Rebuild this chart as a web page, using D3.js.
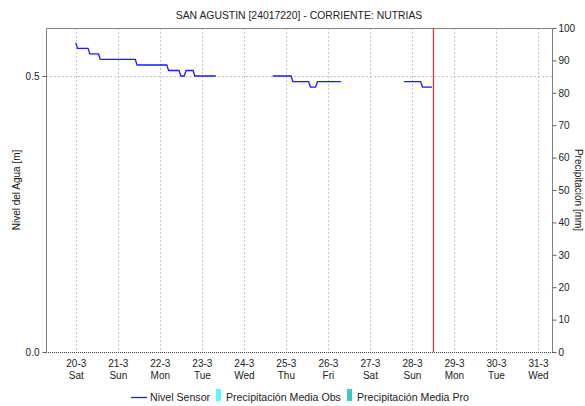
<!DOCTYPE html>
<html>
<head>
<meta charset="utf-8">
<script src="https://cdn.jsdelivr.net/npm/d3@7"></script>
<style>
  html, body { margin: 0; padding: 0; background: #fff; }
  svg { display: block; font-family: "Liberation Sans", Arial, sans-serif; }
</style>
</head>
<body>
<svg id="chart" width="585" height="406"></svg>
<script>
// Water level readings (m), one array per continuous stretch of data
const sensorTimes1 = ["2021-03-20T00:00","2021-03-20T01:00","2021-03-20T07:00","2021-03-20T08:00",
  "2021-03-20T13:00","2021-03-20T14:00","2021-03-21T10:00","2021-03-21T11:00","2021-03-22T04:00",
  "2021-03-22T05:00","2021-03-22T11:00","2021-03-22T12:00","2021-03-22T14:00","2021-03-22T15:00",
  "2021-03-22T19:00","2021-03-22T20:00","2021-03-23T08:00"];
const sensorValues1 = [0.56,0.55,0.55,0.54,0.54,0.53,0.53,0.52,0.52,0.51,0.51,0.50,0.50,0.51,0.51,0.50,0.50];

const sensorTimes2 = ["2021-03-24T16:30","2021-03-25T03:00","2021-03-25T04:00","2021-03-25T13:00",
  "2021-03-25T14:00","2021-03-25T17:00","2021-03-25T18:00","2021-03-26T07:30"];
const sensorValues2 = [0.50,0.50,0.49,0.49,0.48,0.48,0.49,0.49];

const sensorTimes3 = ["2021-03-27T19:30","2021-03-28T05:00","2021-03-28T06:00","2021-03-28T11:30"];
const sensorValues3 = [0.49,0.49,0.48,0.48];

// Precipitation series (mm) — no rainfall recorded in this window
const precipObs = [];
const precipPro = [];

// Axis settings
const timeStart = "2021-03-19T07:00";
const timeEnd = "2021-03-31T08:00";
const nowMarker = "2021-03-28T12:00";
const levelMax = 0.587;
const levelTicks = [0.0, 0.5];
const precipTicks = [0,10,20,30,40,50,60,70,80,90,100];

const chartTitle = "SAN AGUSTIN [24017220] - CORRIENTE: NUTRIAS";
const leftTitle = "Nivel del Agua [m]";
const rightTitle = "Precipitación [mm]";
const legendLabels = ["Nivel Sensor", "Precipitación Media Obs", "Precipitación Media Pro"];

const parse = d3.timeParse("%Y-%m-%dT%H:%M");
const svg = d3.select("#chart");

const plotL = 46, plotR = 552, plotT = 28, plotB = 352;

const x = d3.scaleTime().domain([parse(timeStart), parse(timeEnd)]).range([plotL, plotR]);
const yL = d3.scaleLinear().domain([0, levelMax]).range([plotB, plotT]);
const yR = d3.scaleLinear().domain([0, 100]).range([plotB, plotT]);

const days = d3.timeDay.range(parse("2021-03-20T00:00"), parse("2021-04-01T00:00"));

// grid
const grid = svg.append("g");
grid.selectAll("line.v").data(days).join("line")
  .attr("x1", d => Math.round(x(d)) + 0.5).attr("x2", d => Math.round(x(d)) + 0.5)
  .attr("y1", plotT).attr("y2", plotB)
  .attr("stroke", "#c4c4c4").attr("stroke-dasharray", "2,2");
grid.append("line")
  .attr("x1", plotL).attr("x2", plotR)
  .attr("y1", Math.round(yL(0.5)) + 0.5).attr("y2", Math.round(yL(0.5)) + 0.5)
  .attr("stroke", "#c4c4c4").attr("stroke-dasharray", "2,2");

// frame
svg.append("path")
  .attr("d", `M${plotL + 0.5},${plotB}V${plotT + 0.5}H${plotR + 0.5}V${plotB}`)
  .attr("fill", "none").attr("stroke", "#808080");
svg.append("line")
  .attr("x1", plotL).attr("x2", plotR + 1)
  .attr("y1", plotB + 0.5).attr("y2", plotB + 0.5)
  .attr("stroke", "#404040").attr("stroke-dasharray", "1,1");

// left axis
const axL = svg.append("g").attr("transform", `translate(${plotL + 0.5},0)`)
  .call(d3.axisLeft(yL).tickValues(levelTicks).tickFormat(d3.format(".1f")).tickSize(4).tickPadding(3));
axL.select(".domain").remove();
axL.selectAll("line").attr("stroke", "#606060");
axL.selectAll("text").attr("font-size", 10).attr("fill", "#222").attr("font-family", "Liberation Sans, Arial, sans-serif");

// right axis
const axR = svg.append("g").attr("transform", `translate(${plotR + 0.5},0)`)
  .call(d3.axisRight(yR).tickValues(precipTicks).tickSize(4).tickPadding(2));
axR.select(".domain").remove();
axR.selectAll("line").attr("stroke", "#606060");
axR.selectAll("text").attr("font-size", 10).attr("fill", "#222").attr("font-family", "Liberation Sans, Arial, sans-serif");

// bottom axis labels (date + weekday)
const fmtDate = d3.timeFormat("%-d-%-m");
const fmtDay = d3.timeFormat("%a");
const axB = svg.append("g").attr("transform", `translate(0,${plotB})`)
  .call(d3.axisBottom(x).tickValues(days).tickSize(0).tickFormat(""));
axB.select(".domain").remove();
axB.selectAll(".tick").each(function(d) {
  const g = d3.select(this);
  g.append("text").attr("y", 15).attr("text-anchor", "middle").attr("font-size", 10)
    .attr("fill", "#222").text(fmtDate(d));
  g.append("text").attr("y", 27).attr("text-anchor", "middle").attr("font-size", 10)
    .attr("fill", "#222").text(fmtDay(d));
});

// water level line
const line = d3.line().x(d => x(d[0])).y(d => yL(d[1]));
const segments = [
  [sensorTimes1, sensorValues1],
  [sensorTimes2, sensorValues2],
  [sensorTimes3, sensorValues3]
].map(([t, v]) => t.map((s, i) => [parse(s), v[i]]));
svg.append("g").selectAll("path").data(segments).join("path")
  .attr("d", line).attr("fill", "none")
  .attr("stroke", "#1a1aff").attr("stroke-width", 1.3);

// current time marker
svg.append("line")
  .attr("x1", x(parse(nowMarker)) + 0.5).attr("x2", x(parse(nowMarker)) + 0.5)
  .attr("y1", plotT).attr("y2", plotB)
  .attr("stroke", "#d03a3a").attr("stroke-width", 1.3);

// titles
svg.append("text").attr("x", (plotL + plotR) / 2).attr("y", 19).attr("text-anchor", "middle")
  .attr("font-size", 10.4).attr("fill", "#222").text(chartTitle);
svg.append("text").attr("transform", `translate(20,${(plotT + plotB) / 2}) rotate(-90)`)
  .attr("text-anchor", "middle").attr("font-size", 10).attr("fill", "#111").text(leftTitle);
svg.append("text").attr("transform", `translate(575,${(plotT + plotB) / 2}) rotate(90)`)
  .attr("text-anchor", "middle").attr("font-size", 10).attr("fill", "#111").text(rightTitle);

// legend
const lg = svg.append("g").attr("font-size", 10.6).attr("fill", "#222");
lg.append("line").attr("x1", 131).attr("x2", 147).attr("y1", 397.5).attr("y2", 397.5)
  .attr("stroke", "#1a1aff").attr("stroke-width", 1.3);
lg.append("text").attr("x", 150).attr("y", 401).text(legendLabels[0]);
lg.append("rect").attr("x", 216).attr("y", 389).attr("width", 5).attr("height", 12).attr("fill", "#5ff5ff");
lg.append("text").attr("x", 226).attr("y", 401).text(legendLabels[1]);
lg.append("rect").attr("x", 347).attr("y", 389).attr("width", 5).attr("height", 12).attr("fill", "#3cc8c4");
lg.append("text").attr("x", 357).attr("y", 401).text(legendLabels[2]);
</script>
</body>
</html>
